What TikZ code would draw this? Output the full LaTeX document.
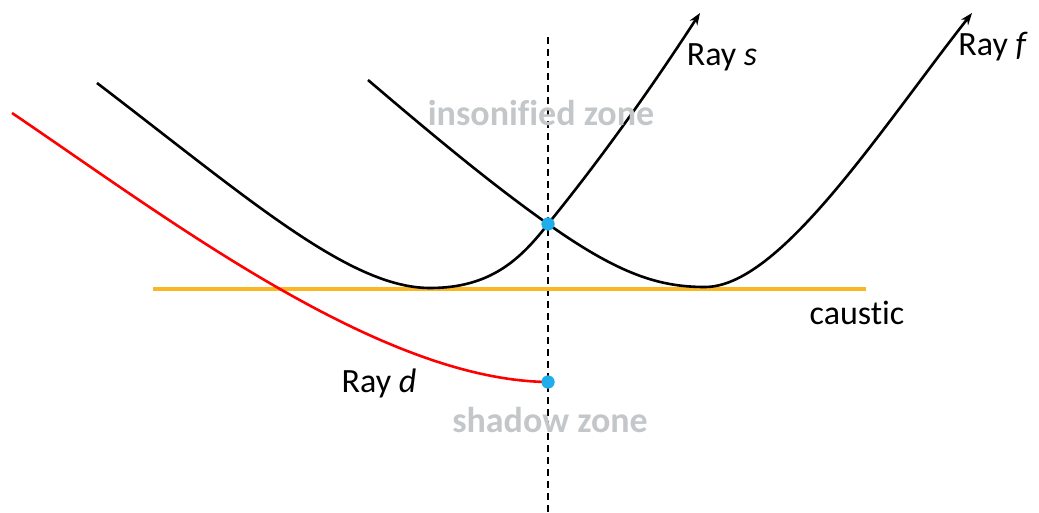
\documentclass[tikz,border=0pt]{standalone}
\usepackage{fontspec}
\setmainfont{Carlito}[Ligatures=NoCommon]
\usetikzlibrary{arrows.meta}
\definecolor{dotblue}{HTML}{1FAEEA}
\definecolor{causticorange}{HTML}{F8B723}
\definecolor{zonegray}{HTML}{C4C7C9}
\tikzset{
  ray/.style={line width=2.6pt, black},
  rayarrow/.style={ray, -{Stealth[length=12pt,width=9pt]}},
  label/.style={font=\fontsize{34}{38}\selectfont, inner sep=0pt},
  zone/.style={font=\fontsize{36}{40}\selectfont\bfseries, text=zonegray, inner sep=0pt},
  dot/.style={circle, fill=dotblue, minimum size=13pt, inner sep=0pt}
}
\begin{document}
\begin{tikzpicture}[x=1pt,y=-1pt]
\useasboundingbox (0,0) rectangle (1039,513);
% coordinates
\coordinate (vtop) at (548,37);
\coordinate (vbot) at (548,513);
\coordinate (cL) at (153,289);
\coordinate (cR) at (866,289);
\coordinate (sStart) at (97,83);
\coordinate (sMin) at (430,288);
\coordinate (sTip) at (700,13);
\coordinate (fStart) at (368,80);
\coordinate (fMin) at (705,287);
\coordinate (fTip) at (972,13);
\coordinate (dStart) at (12,113);
% dashed line
\draw[line width=1.4pt, dash pattern=on 7pt off 5pt] (vtop) -- (vbot);
% caustic
\draw[line width=3.2pt, causticorange] (cL) -- (cR);
% dots (nodes)
\node[dot] (cross) at (548,224) {};
\node[dot] (dEnd) at (548,382) {};
% Ray s
\draw[rayarrow] (sStart) .. controls (250,200) and (350,288) .. (sMin)
  .. controls (490,288) and (520,260) .. (cross.center)
  .. controls (600,160) and (650,90) .. (sTip);
% Ray f
\draw[rayarrow] (fStart) .. controls (450,150) and (500,190) .. (cross.center)
  .. controls (620,275) and (660,287) .. (fMin)
  .. controls (780,287) and (880,130) .. (fTip);
% Ray d
\draw[line width=2.6pt, red] (dStart) .. controls (170,220) and (380,380) .. (dEnd.center);
\node[dot] at (dEnd) {};
\node[dot] at (cross) {};
% labels
\node[label] (ls) at (722,57) {Ray \textit{s}};
\node[label] (lf) at (993,47) {Ray \textit{f}};
\node[label] (lc) at (857,313) {caustic};
\node[label] (ld) at (379,383) {Ray \textit{d}};
\node[zone] (zi) at (541,113) {insonified zone};
\node[zone] (zs) at (550,420) {shadow zone};
\end{tikzpicture}
\end{document}
